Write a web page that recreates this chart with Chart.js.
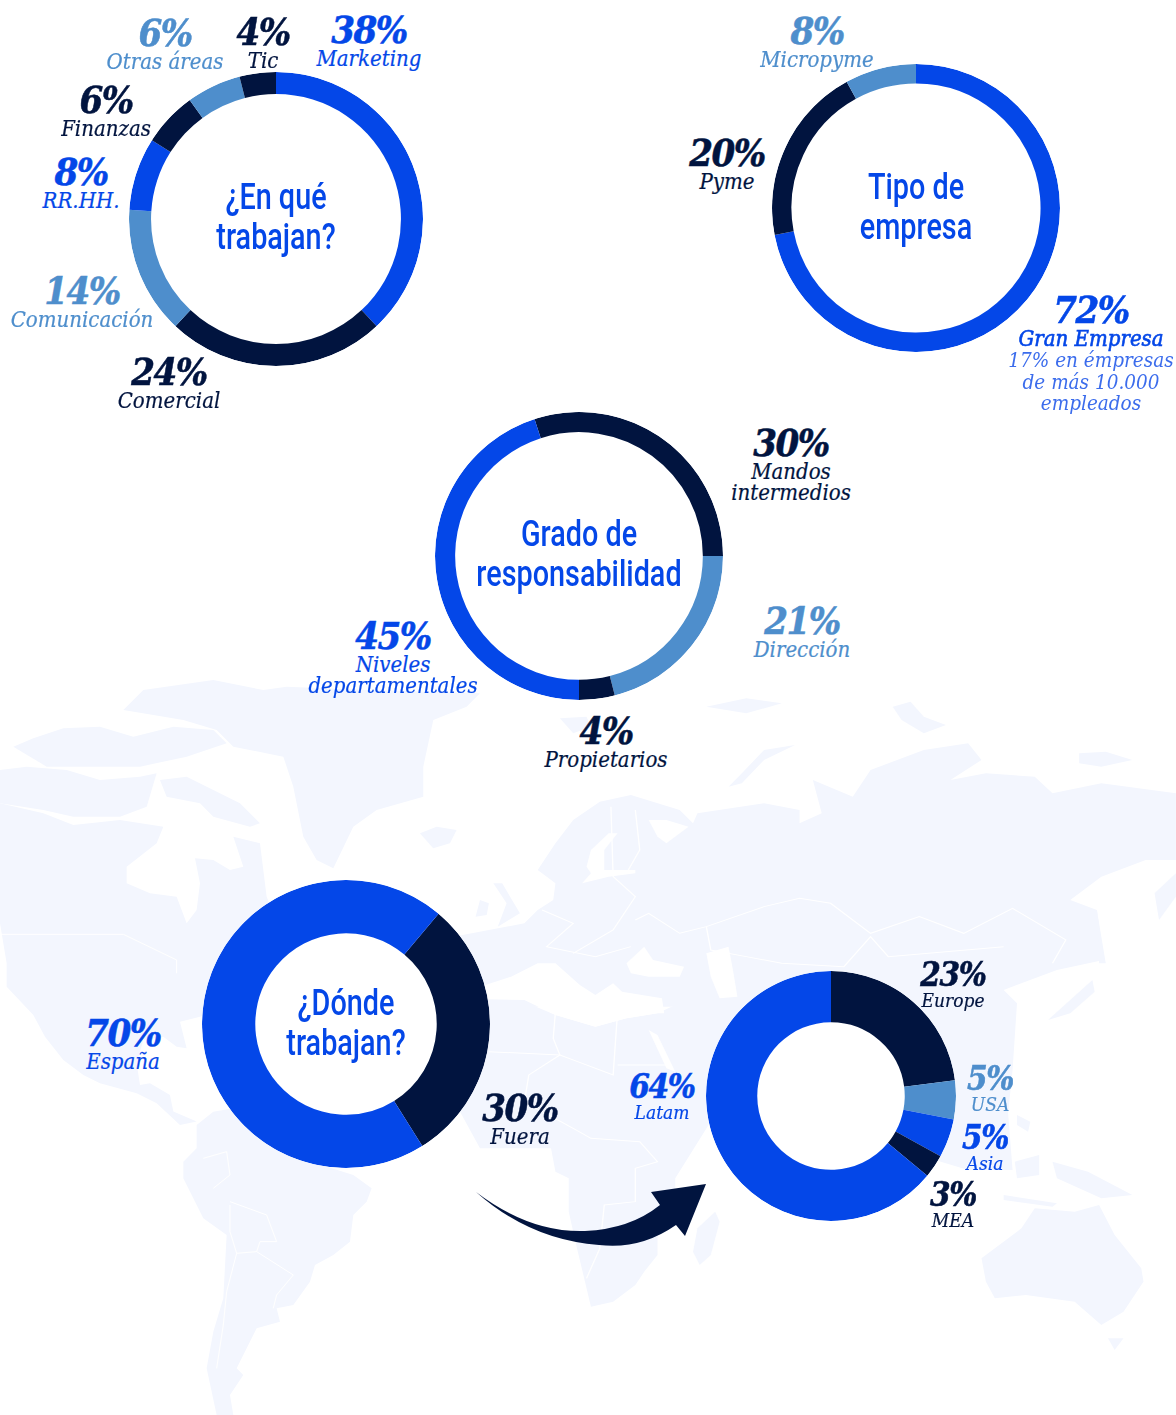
<!DOCTYPE html>
<html lang="es">
<head>
<meta charset="utf-8">
<title>Perfil profesional</title>
<script src="https://cdn.jsdelivr.net/npm/chart.js@4"></script>
<style>
    html, body { margin: 0; padding: 0; background: #fff; }
    #page { position: relative; width: 1176px; height: 1415px; overflow: hidden; }
    #map { position: absolute; left: 0; top: 0; }
    .ring { position: absolute; border-radius: 50%; background: #fff; }
    .txt { position: absolute; white-space: nowrap; transform: translate(-50%, -50%); text-align: center; line-height: 1; }
    .pct { font-family: "DejaVu Serif Condensed", "DejaVu Serif", serif; font-style: italic; font-weight: 700; font-size: 38px; letter-spacing: -1.6px; -webkit-text-stroke: 0.5px currentColor; }
    .pct.small { font-size: 33px; letter-spacing: -1.4px; }
    .name { font-family: "DejaVu Serif Condensed", "DejaVu Serif", serif; font-style: italic; font-size: 22px; -webkit-text-stroke: 0.2px currentColor; }
    .name.small { font-size: 19px; }
    .name.strong { -webkit-text-stroke: 0.6px currentColor; }
    .name.thin { color: #3b6cec; font-size: 20.5px; -webkit-text-stroke: 0; }
    .title { font-family: Roboto, sans-serif; font-weight: 500; font-size: 36px; color: #0447e8; transform: translate(-50%, -50%) scaleX(0.8); }
</style>
</head>
<body>
<div id="page">
    <!-- fondo: mapa del mundo -->
    <svg id="map" width="1176" height="1415" fill="#f3f6fe">
        <g transform="translate(0,670) scale(0.3333)">
            <path d="M370,120 L430,60 640,30 790,60 860,50 1100,60 1440,70 1400,110 1300,150 1270,290 1270,380 1130,420 1060,470 1000,595 950,570 910,500 880,350 850,260 700,230 650,180 550,150Z"/>
            <path d="M40,230 L100,205 190,175 300,170 400,200 520,170 640,180 680,220 560,260 420,290 300,290 140,290Z"/>
            <path d="M0,300 L80,290 200,300 300,330 420,320 470,310 440,410 360,440 220,440 130,420 0,400Z"/>
            <path d="M480,330 L560,320 640,360 720,400 780,460 750,470 640,440 600,400 500,380Z"/>
            <path d="M0,400 L130,430 220,465 360,450 490,470 470,520 380,590 380,640 450,670 530,680 560,760 590,720 600,640 585,565 640,570 690,600 730,590 700,500 780,520 800,680 850,800 700,1000 600,1040 540,1055 560,1135 530,1130 490,1100 430,1110 410,1180 420,1245 450,1240 510,1275 520,1325 590,1355 540,1365 470,1300 410,1270 300,1240 250,1215 190,1170 135,1100 100,1035 20,950 20,880 0,760Z"/>
            <path d="M1260,490 L1310,470 1370,480 1350,520 1300,535Z"/>
            <path d="M0,793 L370,793 530,870 530,910" fill="none" stroke="#fff" stroke-width="3"/>
        </g>
        <g transform="translate(0,1015) scale(0.3333)">
            <path d="M590,330 L640,290 700,280 770,360 900,430 1060,480 1115,520 1100,560 1060,600 1050,680 1000,720 945,750 930,800 880,870 830,880 840,920 770,940 740,1000 710,1060 730,1080 690,1140 700,1200 650,1200 620,1060 640,950 670,850 680,660 610,610 550,490 550,440 590,400Z"/>
            <g fill="none" stroke="#fff" stroke-width="3">
                <path d="M690,560 L800,600 830,680 780,680 770,710 880,780 830,840 820,880"/>
                <path d="M690,570 L690,650 710,715 770,710"/>
                <path d="M640,520 L690,480 680,410 610,430"/>
                <path d="M710,715 L680,830 670,930 650,1060"/>
            </g>
        </g>
        <g transform="translate(480,1015) scale(0.4438,0.3333)">
            <path d="M-90,-50 L100,-40 170,0 260,35 330,10 400,-5 440,-30 700,-30 700,250 520,270 515,330 440,490 440,590 400,650 400,720 370,770 350,810 300,860 250,875 215,680 200,590 200,490 170,470 160,400 0,400 -45,290 -70,220 -90,150Z"/>
            <path d="M530,590 L540,620 520,720 495,750 480,710 490,640Z"/>
            <path d="M1130,730 L1220,640 1250,580 1340,590 1395,570 1430,660 1490,760 1495,800 1450,890 1400,930 1340,860 1230,840 1160,850 1140,800Z"/>
            <path d="M1415,970 L1450,970 1430,1005Z"/>
            <path d="M1290,440 L1370,470 1470,540 1400,550 1300,490Z"/>
            <path d="M1180,540 L1300,565 1290,575 1180,555Z"/>
            <path d="M1205,440 L1260,420 1260,480 1210,490Z"/>
            <path d="M1210,300 L1240,320 1235,350 1210,330Z"/>
            <path d="M380,45 L400,60 440,170 420,160Z" fill="#fff"/>
            <g fill="none" stroke="#fff" stroke-width="3">
                <path d="M20,110 L180,120 220,140 300,180 310,-10"/>
                <path d="M310,150 L420,150"/>
                <path d="M170,-10 L165,70 180,120 110,180 100,260 210,340 250,370 360,380 400,440 350,460 350,560 280,570 270,700 240,790"/>
            </g>
        </g>
        <g transform="translate(480,670) scale(0.4438,0.3333)">
            <path d="M-60,800 L100,760 130,720 165,690 170,640 130,600 170,520 210,450 270,395 340,375 450,420 480,460 490,430 640,400 720,420 720,460 770,430 750,330 840,380 880,300 1000,240 1100,220 1130,270 1060,330 1140,310 1250,320 1290,370 1400,340 1568,370 1568,570 1500,570 1400,620 1330,690 1390,720 1405,870 1300,900 1180,960 1210,1000 1200,1200 1190,1330 1200,1500 1100,1500 600,1300 600,1010 -60,1010Z"/>
            <path d="M1568,610 L1520,670 1530,750 1568,680Z"/>
            <path d="M1280,1050 L1380,930 1385,965 1330,1030Z"/>
            <path d="M1390,720 L1410,880 1395,880Z"/>
            <path d="M710,225 L640,240 590,310 560,350 590,340 640,270Z"/>
            <path d="M180,145 L240,140 250,170 210,190Z"/>
            <path d="M510,110 L600,85 680,100 600,130Z"/>
            <path d="M930,110 L970,95 1000,140 1050,165 1000,190 950,150Z"/>
            <path d="M1350,250 L1410,245 1470,270 1400,290 1350,280Z"/>
            <path d="M30,640 L50,640 90,730 40,770 60,700Z"/>
            <path d="M0,690 L20,700 15,735 -10,740Z"/>
            <g fill="#fff">
                <path d="M-80,1000 L0,950 70,920 130,880 170,880 225,945 260,975 300,940 320,965 410,985 415,1030 400,1030 330,1045 260,1070 170,1035 100,990 -90,985Z"/>
                <path d="M330,880 L370,830 390,870 460,890 450,920 380,920 340,910Z"/>
                <path d="M510,850 L560,830 570,900 580,980 540,985 520,920Z"/>
                <path d="M240,590 L250,540 290,490 310,490 280,540 280,600 350,600 350,610 290,620 230,640 250,610Z"/>
                <path d="M380,450 L420,450 470,470 420,520 400,500Z"/>
            </g>
            <g fill="none" stroke="#fff" stroke-width="3">
                <path d="M350,750 L380,730 450,790 510,770 640,710 720,685 790,700 880,790 990,740 1090,790 1200,715 1320,810 1290,880"/>
                <path d="M510,770 L520,840 600,860 680,880 820,890 880,800 920,860 1180,830"/>
                <path d="M295,410 L300,620 350,680 300,780 210,850"/>
                <path d="M140,720 L210,760 150,830 260,860 340,830"/>
                <path d="M350,420 L360,540 330,610"/>
            </g>
        </g>
        <path fill="#01143f" d="M476,1192 Q530,1233 585,1231 Q630,1229 660,1205 L651,1192 L706,1184 L685,1236 L676,1225 Q640,1250 599,1245 Q530,1240 476,1192Z"/>
    </svg>
</div>

<script>
const BLUE = '#0447e8';
const NAVY = '#01143f';
const LIGHT = '#4e8ecc';

// ¿En qué trabajan?
const areaNames = ['Marketing', 'Comercial', 'Comunicación', 'RR.HH.', 'Finanzas', 'Otras áreas', 'Tic'];
const areaValues = [38, 24, 14, 8, 6, 6, 4];

// Tipo de empresa
const companyNames = ['Gran Empresa', 'Pyme', 'Micropyme'];
const companyValues = [72, 20, 8];

// Grado de responsabilidad
const roleNames = ['Mandos|intermedios', 'Dirección', 'Propietarios', 'Niveles|departamentales'];
const roleValues = [30, 21, 4, 45];

// ¿Dónde trabajan?
const placeNames = ['Fuera', 'España'];
const placeValues = [30, 70];

// Fuera de España
const abroadNames = ['Europe', 'USA', 'Asia', 'MEA', 'Latam'];
const abroadValues = [23, 5, 5, 3, 64];

const page = document.getElementById('page');

const addText = (cls, text, x, y, color) => {
    const el = document.createElement('div');
    el.className = 'txt ' + cls;
    el.textContent = text;
    el.style.left = x + 'px';
    el.style.top = y + 'px';
    if (color) el.style.color = color;
    page.appendChild(el);
};

const addRing = (cx, cy, radius, cutout, rotation, names, values, colors) => {
    const canvas = document.createElement('canvas');
    canvas.className = 'ring';
    canvas.width = radius * 2;
    canvas.height = radius * 2;
    canvas.style.left = (cx - radius) + 'px';
    canvas.style.top = (cy - radius) + 'px';
    page.appendChild(canvas);

    new Chart(canvas.getContext('2d'), {
        type: 'doughnut',
        data: {
            labels: names,
            datasets: [{
                data: values,
                backgroundColor: colors,
                borderWidth: 0,
            }]
        },
        options: {
            responsive: false,
            animation: false,
            cutout: cutout,
            rotation: rotation,
            plugins: {
                legend: { display: false },
                tooltip: { enabled: false },
            }
        }
    });
};

// one label: percent on top, one or two name lines under it
const addLabel = (names, values, i, x, y, color, extra = '') => {
    const gap = extra === 'small' ? 26 : 29;
    addText('pct ' + extra, values[i] + '%', x, y, color);
    names[i].split('|').forEach((line, n) => {
        addText('name ' + extra, line, x, y + gap + n * 21, color);
    });
};

addRing(276, 219, 147, '85%', 0, areaNames, areaValues, [BLUE, NAVY, LIGHT, BLUE, NAVY, LIGHT, NAVY]);
addRing(916, 208, 144, '86.5%', 0, companyNames, companyValues, [BLUE, NAVY, LIGHT]);
addRing(579, 556, 144, '86%', -18, roleNames, roleValues, [NAVY, LIGHT, NAVY, BLUE]);
addRing(346, 1024, 144, '63%', 40, placeNames, placeValues, [NAVY, BLUE]);
addRing(831, 1096, 125, '59%', 0, abroadNames, abroadValues, [NAVY, LIGHT, BLUE, NAVY, BLUE]);

addLabel(areaNames, areaValues, 0, 369, 30, BLUE);
addLabel(areaNames, areaValues, 1, 169, 372, NAVY);
addLabel(areaNames, areaValues, 2, 82, 291, LIGHT);
addLabel(areaNames, areaValues, 3, 81, 172, BLUE);
addLabel(areaNames, areaValues, 4, 106, 100, NAVY);
addLabel(areaNames, areaValues, 5, 165, 33, LIGHT);
addLabel(areaNames, areaValues, 6, 263, 32, NAVY);

addLabel(companyNames, companyValues, 0, 1091, 310, BLUE, 'strong');
addLabel(companyNames, companyValues, 1, 727, 153, NAVY);
addLabel(companyNames, companyValues, 2, 817, 31, LIGHT);
addText('name thin', '17% en émpresas', 1091, 360);
addText('name thin', 'de más 10.000', 1091, 382);
addText('name thin', 'empleados', 1091, 403);

addLabel(roleNames, roleValues, 0, 791, 443, NAVY);
addLabel(roleNames, roleValues, 1, 802, 621, LIGHT);
addLabel(roleNames, roleValues, 2, 606, 731, NAVY);
addLabel(roleNames, roleValues, 3, 393, 636, BLUE);

addLabel(placeNames, placeValues, 0, 520, 1108, NAVY);
addLabel(placeNames, placeValues, 1, 123, 1033, BLUE);

addLabel(abroadNames, abroadValues, 0, 953, 974, NAVY, 'small');
addLabel(abroadNames, abroadValues, 1, 990, 1078, LIGHT, 'small');
addLabel(abroadNames, abroadValues, 2, 985, 1137, BLUE, 'small');
addLabel(abroadNames, abroadValues, 3, 953, 1194, NAVY, 'small');
addLabel(abroadNames, abroadValues, 4, 662, 1086, BLUE, 'small');

addText('title', '¿En qué', 276, 197);
addText('title', 'trabajan?', 276, 237);
addText('title', 'Tipo de', 916, 187);
addText('title', 'empresa', 916, 227);
addText('title', 'Grado de', 579, 534);
addText('title', 'responsabilidad', 579, 574);
addText('title', '¿Dónde', 346, 1003);
addText('title', 'trabajan?', 346, 1043);
</script>
</body>
</html>
